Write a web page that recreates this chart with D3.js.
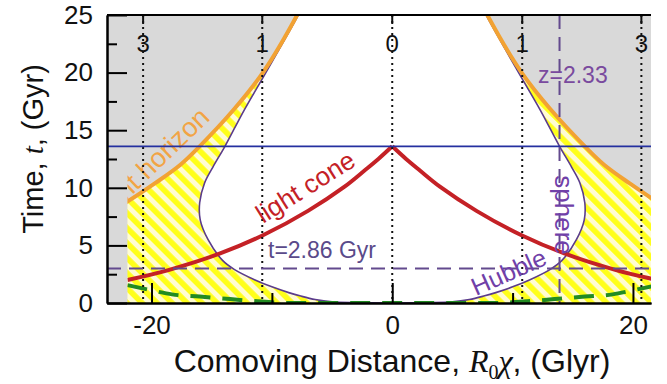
<!DOCTYPE html>
<html><head><meta charset="utf-8">
<script src="https://cdn.jsdelivr.net/npm/d3@7"></script>
<style>html,body{margin:0;padding:0;background:#fff;}svg{display:block;}</style>
</head><body>
<svg id="c" width="667" height="384"></svg>
<script>
// ---------- data ----------
const tMajorTicks = [0, 5, 10, 15, 20, 25];
const tMinorTicks = [2.5, 7.5, 12.5, 17.5, 22.5];
const xMajorTicks = [-20, 0, 20];
const xMinorTicks = [-10, 10];
const zLabels = ["3", "1", "0", "1", "3"];
const zChi = [-20.7, -10.8, 0, 10.8, 20.7];
const tNow = 13.6;          // present time (blue line)
const tMark = 3.0;          // dashed horizontal (t=2.86 Gyr)
const chiMark = 13.9;       // dashed vertical (z=2.33)
const dataHalfWidth = 22;   // extent of computed region
// Hubble sphere (comoving), half-width vs time
const hsT   = [0, 0.03, 0.1, 0.3, 0.6, 0.9, 1.4, 2.0, 2.9, 3.7, 5.5, 7.2, 8.7, 10.4, 11.8, 13.6, 16.75, 20, 25, 26.5];
const hsChi = [0, 3.0, 5.0, 6.4, 7.6, 8.6, 10.0, 11.4, 13.1, 14.1, 15.3, 15.95, 16.0, 15.6, 14.9, 13.9, 12.3, 10.5, 7.8, 7.1];
// event horizon (comoving), half-width vs time
const ehT   = [0, 4, 7, 8.8, 10.4, 12, 13.6, 16.75, 20, 25, 26.5];
const ehChi = [38, 30, 24.9, 22.0, 19.7, 17.6, 16.0, 13.2, 10.75, 7.9, 7.2];
// past light cone
const lcT   = [2.0, 2.86, 4.3, 5.9, 8.0, 10.1, 11.5, 12.5, 13.6];
const lcChi = [22, 18.6, 14.3, 10.7, 7.0, 3.96, 2.3, 1.15, 0];
// green dashed curve
const grChi = [-22, -20, -18.3, -16, -14.5, -11.5, -8.5, 8.5, 11.5, 14.5, 16, 18.3, 20, 22];
const grT   = [1.55, 1.1, 0.75, 0.56, 0.43, 0.17, 0, 0, 0.17, 0.43, 0.56, 0.75, 1.1, 1.55];

// ---------- layout ----------
const svg = d3.select("#c");
const L = 107, R = 651, T = 15, B = 303;
const x = d3.scaleLinear().domain([-23.7, 21.5]).range([L, R]);
const y = d3.scaleLinear().domain([0, 25]).range([B, T]);
const sans = "Liberation Sans, Arial, sans-serif";
const serif = "Liberation Serif, Times New Roman, serif";
const smooth = d3.curveCatmullRom.alpha(0.5);

const defs = svg.append("defs");
defs.append("clipPath").attr("id", "plotClip").append("rect")
  .attr("x", L).attr("y", T).attr("width", R - L).attr("height", B - T);
defs.append("clipPath").attr("id", "dataClip").append("rect")
  .attr("x", x(-dataHalfWidth)).attr("y", T).attr("width", R - x(-dataHalfWidth)).attr("height", B - T);
const pat = defs.append("pattern").attr("id", "hatch").attr("patternUnits", "userSpaceOnUse")
  .attr("width", 10.6).attr("height", 10.6).attr("patternTransform", "rotate(-45)");
pat.append("rect").attr("width", 10.6).attr("height", 10.6).attr("fill", "#fffcd2");
pat.append("rect").attr("width", 5.6).attr("height", 10.6).attr("fill", "#ffff1a");

// background
svg.append("rect").attr("x", L).attr("y", T).attr("width", R - L).attr("height", B - T).attr("fill", "#d9d9d9");

const plot = svg.append("g").attr("clip-path", "url(#plotClip)");
const data = plot.append("g").attr("clip-path", "url(#dataClip)");

const eh = ehT.map((t, i) => ({t, c: ehChi[i]}));
const hs = hsT.map((t, i) => ({t, c: hsChi[i]}));

// hatched region (below event horizon)
data.append("path").datum(eh)
  .attr("d", d3.area().curve(smooth).y(d => y(d.t)).x0(d => x(-d.c)).x1(d => x(d.c)))
  .attr("fill", "url(#hatch)");
// white region inside Hubble sphere
data.append("path").datum(hs)
  .attr("d", d3.area().curve(smooth).y(d => y(d.t)).x0(d => x(-d.c)).x1(d => x(d.c)))
  .attr("fill", "#ffffff");

// z reference dotted lines
zChi.forEach(c => {
  plot.append("line").attr("x1", x(c)).attr("x2", x(c)).attr("y1", T).attr("y2", B)
    .attr("stroke", "#111").attr("stroke-width", 2).attr("stroke-dasharray", "2,4");
  plot.append("line").attr("x1", x(c)).attr("x2", x(c)).attr("y1", T).attr("y2", T + 9)
    .attr("stroke", "#111").attr("stroke-width", 2);
});

// blue present-time line
plot.append("line").attr("x1", L).attr("x2", R).attr("y1", y(tNow)).attr("y2", y(tNow))
  .attr("stroke", "#2530a0").attr("stroke-width", 1.6);
// purple dashed lines
plot.append("line").attr("x1", L).attr("x2", R).attr("y1", y(tMark)).attr("y2", y(tMark))
  .attr("stroke", "#634a8e").attr("stroke-width", 2).attr("stroke-dasharray", "14,8");
plot.append("line").attr("x1", x(chiMark)).attr("x2", x(chiMark)).attr("y1", T).attr("y2", B)
  .attr("stroke", "#634a8e").attr("stroke-width", 2).attr("stroke-dasharray", "14,8");

// Hubble sphere curves
[-1, 1].forEach(s => {
  data.append("path").datum(hs)
    .attr("d", d3.line().curve(smooth).x(d => x(s * d.c)).y(d => y(d.t)))
    .attr("fill", "none").attr("stroke", "#5b3c8c").attr("stroke-width", 1.6);
});
// event horizon curves
[-1, 1].forEach(s => {
  data.append("path").datum(eh)
    .attr("d", d3.line().curve(smooth).x(d => x(s * d.c)).y(d => y(d.t)))
    .attr("fill", "none").attr("stroke", "#f2a233").attr("stroke-width", 4);
});
// light cone (two branches meeting at the apex)
const lc = lcT.map((t, i) => ({t, c: lcChi[i]}));
[-1, 1].forEach(s => {
  data.append("path").datum(lc)
    .attr("d", d3.line().curve(smooth).x(d => x(s * d.c)).y(d => y(d.t)))
    .attr("fill", "none").attr("stroke", "#c42126").attr("stroke-width", 4);
});
// green dashed
const gr = grChi.map((c, i) => ({c, t: grT[i]}));
data.append("path").datum(gr)
  .attr("d", d3.line().curve(d3.curveMonotoneX).x(d => x(d.c)).y(d => y(d.t)))
  .attr("fill", "none").attr("stroke", "#228b22").attr("stroke-width", 4).attr("stroke-dasharray", "20,12");

// annotations
data.append("text").attr("transform", "translate(211,119) rotate(-44)")
  .attr("text-anchor", "end").attr("font-family", sans).attr("font-size", 27)
  .attr("fill", "#f2a444").text("event horizon");
plot.append("text").attr("transform", "translate(263,224) rotate(-32)")
  .attr("font-family", sans).attr("font-size", 26).attr("fill", "#c42126").text("light cone");
plot.append("text").attr("x", 268).attr("y", 258)
  .attr("font-family", sans).attr("font-size", 23).attr("fill", "#5a4a8a").text("t=2.86 Gyr");
plot.append("text").attr("x", 538).attr("y", 83)
  .attr("font-family", sans).attr("font-size", 23).attr("fill", "#7a4a9e").text("z=2.33");
plot.append("text").attr("transform", "translate(476,296) rotate(-24)")
  .attr("font-family", sans).attr("font-size", 25).attr("fill", "#7040a8").text("Hubble");
plot.append("text").attr("transform", "translate(555,215) rotate(90)")
  .attr("text-anchor", "middle").attr("font-family", sans).attr("font-size", 26).attr("fill", "#7040a8").text("sphere");

// top redshift labels
zChi.forEach((c, i) => {
  svg.append("text").attr("x", x(c)).attr("y", 52).attr("text-anchor", "middle")
    .attr("font-family", sans).attr("font-size", 24).attr("fill", "#111").text(zLabels[i]);
});

// axes
const styleAxis = g => {
  g.selectAll("path.domain").attr("stroke", "#000").attr("stroke-width", 2);
  g.selectAll(".tick line").attr("stroke", "#000").attr("stroke-width", 2);
  g.selectAll("text").attr("font-family", sans).attr("font-size", 26).attr("fill", "#111");
};
svg.append("g").attr("transform", `translate(${L},0)`)
  .call(d3.axisLeft(y).tickValues(tMinorTicks).tickSize(-10).tickSizeOuter(0).tickFormat(""))
  .call(styleAxis);
svg.append("g").attr("transform", `translate(${L},0)`)
  .call(d3.axisLeft(y).tickValues(tMajorTicks).tickSize(-20).tickSizeOuter(0).tickPadding(14).tickFormat(d3.format("d")))
  .call(styleAxis);
svg.append("g").attr("transform", `translate(0,${B})`)
  .call(d3.axisBottom(x).tickValues(xMinorTicks).tickSize(-10).tickSizeOuter(0).tickFormat(""))
  .call(styleAxis);
svg.append("g").attr("transform", `translate(0,${B})`)
  .call(d3.axisBottom(x).tickValues(xMajorTicks).tickSize(-20).tickSizeOuter(0).tickPadding(13).tickFormat(d => d < 0 ? "-" + Math.abs(d) : String(d)))
  .call(styleAxis);
// top frame
svg.append("line").attr("x1", L).attr("x2", R).attr("y1", T).attr("y2", T).attr("stroke", "#000").attr("stroke-width", 2);

// axis titles
const yt = svg.append("text").attr("transform", "translate(43,149) rotate(-90)")
  .attr("text-anchor", "middle").attr("font-family", sans).attr("font-size", 29).attr("fill", "#111");
yt.append("tspan").text("Time, ");
yt.append("tspan").attr("font-family", serif).attr("font-style", "italic").text("t");
yt.append("tspan").text(", (Gyr)");

const xt = svg.append("text").attr("x", 392).attr("y", 372)
  .attr("text-anchor", "middle").attr("font-family", sans).attr("font-size", 32).attr("fill", "#111");
xt.append("tspan").text("Comoving Distance, ");
xt.append("tspan").attr("font-family", serif).attr("font-style", "italic").text("R");
xt.append("tspan").attr("font-family", serif).attr("font-size", 20).attr("dy", 7).text("0");
xt.append("tspan").attr("font-family", serif).attr("font-style", "italic").attr("dy", -7).text("χ");
xt.append("tspan").text(", (Glyr)");
</script>
</body></html>
